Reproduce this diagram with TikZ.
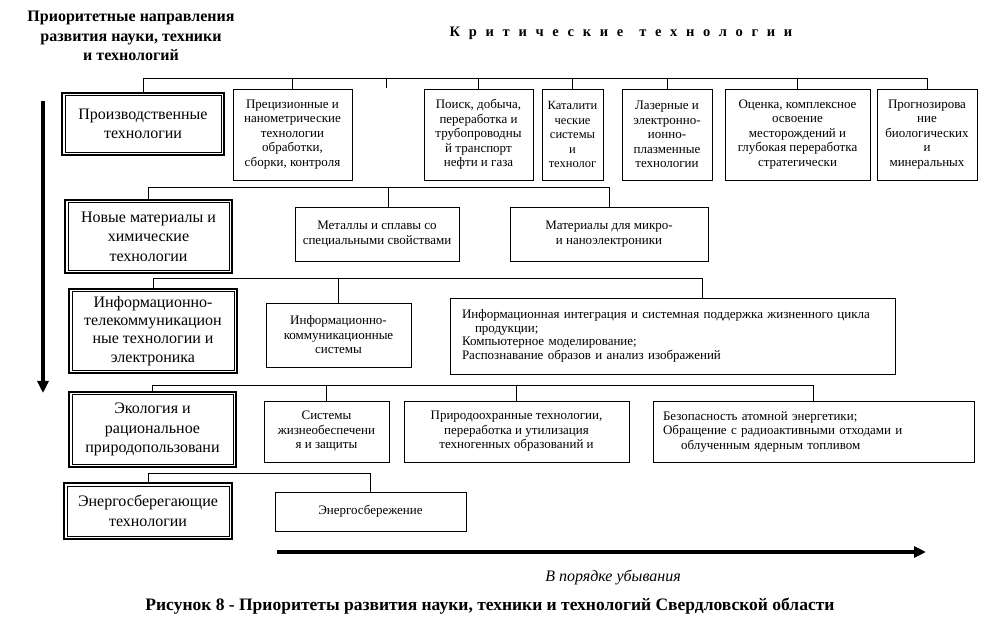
\documentclass[tikz,border=0pt]{standalone}
\usepackage{fontspec}
\setmainfont{Liberation Serif}
\usetikzlibrary{arrows.meta, positioning}
\newfontfamily\spacedfont[LetterSpace=60]{Liberation Serif}
\newcommand\techfont{\fontsize{13}{14.5}\selectfont}
\newcommand\dirfont{\fontsize{16}{19.5}\selectfont}

\begin{document}
\begin{tikzpicture}[x=1pt, y=-1pt,
    tech/.style={draw, line width=0.8pt, align=center, inner sep=0pt, font=\techfont},
    dir/.style={draw, line width=1.6pt, align=center, inner sep=0pt, font=\dirfont},
    conn/.style={line width=0.8pt},
    bigarrow/.style={line width=3.5pt, -{Triangle[length=12pt, width=11pt]}}]
    \useasboundingbox (0,0) rectangle (986,644);

    \node[align=center, font=\fontsize{16}{19.5}\selectfont\bfseries] (head) at (131,36) {Приоритетные направления\\развития науки, техники\\и технологий};
    \node[font=\fontsize{14.5}{16}\selectfont\bfseries\spacedfont] (crit) at (621,33) {Критические\hspace{16pt}технологии};

    \node[dir, minimum width=162, minimum height=62] (prod) at (143,124) {Производственные\\технологии};
    \node[tech, minimum width=119, minimum height=91] (prec) at (292.5,134.5) {Прецизионные и\\нанометрические\\технологии\\обработки,\\сборки, контроля};
    \node[tech, minimum width=109, minimum height=91] (poisk) at (478.5,134.5) {Поиск, добыча,\\переработка и\\трубопроводны\\й транспорт\\нефти и газа};
    \node[tech, minimum width=61, minimum height=91, font=\fontsize{12.5}{14.5}\selectfont] (katal) at (572.5,134.5) {Каталити\\ческие\\системы\\и\\технолог};
    \node[tech, minimum width=90, minimum height=91] (laser) at (667,134.5) {Лазерные и\\электронно-\\ионно-\\плазменные\\технологии};
    \node[tech, minimum width=145, minimum height=91] (ocenka) at (797.5,134.5) {Оценка, комплексное\\освоение\\месторождений и\\глубокая переработка\\стратегически};
    \node[tech, minimum width=100, minimum height=91] (prog) at (927,134.5) {Прогнозирова\\ние\\биологических\\и\\минеральных};
    \coordinate (gap) at (386,88);

    \node[dir, minimum width=167, minimum height=73] (mat) at (148.5,236.5) {Новые материалы и\\химические\\технологии};
    \node[tech, minimum width=164, minimum height=54] (met) at (377,234) {Металлы и сплавы со\\специальными свойствами};
    \node[tech, minimum width=198, minimum height=54] (mater) at (609,234) {Материалы для микро-\\и наноэлектроники};

    \node[dir, minimum width=168, minimum height=84, font=\fontsize{16}{18.3}\selectfont] (info) at (153,331) {Информационно-\\телекоммуникацион\\ные технологии и\\электроника};
    \node[tech, minimum width=145, minimum height=64] (infokom) at (338.5,335) {Информационно-\\коммуникационные\\системы};
    \node[tech, align=left, inner xsep=12pt, text width=421, minimum height=76, font=\fontsize{13}{13.5}\selectfont] (integr) at (672.5,336) {Информационная интеграция и системная поддержка жизненного цикла\\\hspace{13pt}продукции;\\Компьютерное моделирование;\\Распознавание образов и анализ изображений};

    \node[dir, minimum width=167, minimum height=75] (eco) at (152.5,429.5) {Экология и\\рациональное\\природопользовани};
    \node[tech, minimum width=125, minimum height=61] (sys) at (326.5,431.5) {Системы\\жизнеобеспечени\\я и защиты};
    \node[tech, minimum width=225, minimum height=61] (prir) at (516.5,431.5) {Природоохранные технологии,\\переработка и утилизация\\техногенных образований и};
    \node[tech, align=left, inner xsep=10pt, text width=301, minimum height=61] (atom) at (813.5,431.5) {Безопасность атомной энергетики;\\Обращение с радиоактивными отходами и\\\hspace{18pt}облученным ядерным топливом};

    \node[dir, minimum width=168, minimum height=56] (energy) at (148,511) {Энергосберегающие\\технологии};
    \node[tech, minimum width=191, minimum height=39] (ensave) at (370.5,511.5) {Энергосбережение};

    \draw[conn] (prod.north) -- ++(0,-14) -| (prog.north);
    \foreach \n in {prec,poisk,katal,laser,ocenka}
        \draw[conn] (\n.north) -- ++(0,-10);
    \draw[conn] (gap) -- ++(0,-9);
    \draw[conn] (mat.north) -- ++(0,-12) -| (mater.north);
    \draw[conn] ([xshift=11pt]met.north) -- ++(0,-19);
    \draw[conn] (info.north) -- ++(0,-10) -| ([xshift=30pt]integr.north);
    \draw[conn] (infokom.north) -- ++(0,-24);
    \draw[conn] (eco.north) -- ++(0,-6) -| (atom.north);
    \draw[conn] (sys.north) -- ++(0,-15);
    \draw[conn] (prir.north) -- ++(0,-15);
    \draw[conn] (energy.north) -- ++(0,-9) -| (ensave.north);

    \foreach \n in {prod,mat,info,eco,energy}
        \draw[conn] ([shift={(3.7pt,-3.7pt)}]\n.north west) rectangle ([shift={(-3.7pt,3.7pt)}]\n.south east);

    \coordinate (vtop) at (43,101);
    \coordinate (vbot) at (43,393);
    \draw[bigarrow] (vtop) -- (vbot);
    \coordinate (hbeg) at (277,552);
    \coordinate (hend) at (926,552);
    \draw[bigarrow] (hbeg) -- (hend);

    \node[font=\fontsize{16}{18}\selectfont\itshape] (order) at (613,577) {В порядке убывания};
    \node[font=\fontsize{17.5}{20}\selectfont\bfseries] (caption) at (490,606) {Рисунок 8 - Приоритеты развития науки, техники и технологий Свердловской области};
\end{tikzpicture}
\end{document}
